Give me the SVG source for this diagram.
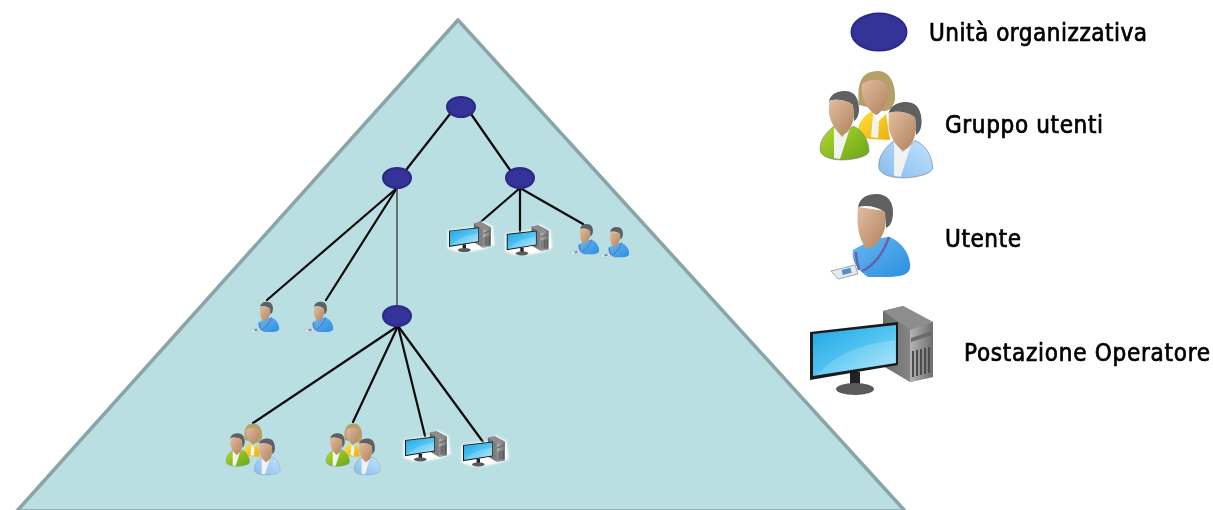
<svg xmlns="http://www.w3.org/2000/svg" width="1213" height="510" viewBox="0 0 1213 510">
<style>
.ou{fill:#333399;stroke:#2b2b85;stroke-width:2}
.lg{font-family:"DejaVu Sans","Liberation Sans",sans-serif;font-stretch:condensed;font-size:24px;fill:#000;stroke:#000;stroke-width:.7;filter:url(#soft)}
#connectors line{stroke:#0a0a0a;stroke-width:2.2;stroke-linecap:round}
#connectors line.thin{stroke:#333;stroke-width:1.3}
.hair{fill:#5f6062}
.face{fill:url(#skin)}
.shirt{fill:#f1f3f1}
</style>
<defs>
<filter id="soft" x="-5%" y="-20%" width="110%" height="140%"><feGaussianBlur stdDeviation=".45"/></filter>
<filter id="halo-blur" x="-10%" y="-10%" width="120%" height="120%"><feGaussianBlur stdDeviation="2.5"/></filter>
<linearGradient id="skin" x1="0" y1="0" x2="1" y2="1"><stop offset="0" stop-color="#e2bd9e"/><stop offset="1" stop-color="#b08260"/></linearGradient>
<linearGradient id="green" x1="0" y1="0" x2="1" y2="1"><stop offset="0" stop-color="#b4dc2c"/><stop offset="1" stop-color="#6aa418"/></linearGradient>
<linearGradient id="yellow" x1="0" y1="0" x2="1" y2="1"><stop offset="0" stop-color="#ffe03a"/><stop offset="1" stop-color="#eab010"/></linearGradient>
<linearGradient id="lblue" x1="1" y1="0" x2="0" y2="1"><stop offset="0" stop-color="#c4e4ff"/><stop offset="1" stop-color="#86bcec"/></linearGradient>
<linearGradient id="blue" x1="0" y1="0" x2="1" y2="1"><stop offset="0" stop-color="#69b7f0"/><stop offset="1" stop-color="#2b8fe0"/></linearGradient>
<linearGradient id="screen" x1="0" y1="0" x2="1" y2="1"><stop offset="0" stop-color="#1fa6e4"/><stop offset=".55" stop-color="#55c6f2"/><stop offset="1" stop-color="#a8e4fa"/></linearGradient>
<linearGradient id="tower" x1="0" y1="0" x2="1" y2="0"><stop offset="0" stop-color="#b4b4b4"/><stop offset="1" stop-color="#6f6f6f"/></linearGradient>
<linearGradient id="side" x1="0" y1="0" x2="1" y2="0"><stop offset="0" stop-color="#6c6c6c"/><stop offset="1" stop-color="#9a9a9a"/></linearGradient>
<g id="head">
<path class="hair" d="M-14,10C-12,2-4,0 2,0C12,0 16,8 16,18C16,24 14,28 11,30L10,14C2,8-8,8-14,10Z"/>
<path class="face" d="M-14,10C-8,8 2,8 10,14L11,24C10,34 6,42-1,44C-8,40-13,30-14,22Z"/>
</g>
<path id="bust" d="M-23,58C-23,46-13,38-6,33L1,44L10,35C20,39 26,50 26,60C26,66 8,69 0,69C-12,69-23,66-23,58Z" stroke="#77818a" stroke-width=".6"/>
<path id="shirtw" class="shirt" d="M-9,36L-1,46L7,37L-3,68L-9,67Z"/>
<g id="user">
<path d="M853,250C864,244 874,238 890,237C903,243 911,256 910,268C909,275 900,277 885,277L868,277C858,270 851,262 853,250Z" fill="url(#blue)"/>
<path d="M886,211L885,228C882,238 877,246 868,249C860,244 856,228 858,207Z" fill="url(#skin)"/>
<path class="hair" d="M858,207C860,197 868,194 876,194C888,194 893,202 893,212C893,220 891,226 886,228L885,212C876,206 866,205 858,207Z"/>
<path d="M889,237C884,252 874,266 862,271M856,252C856,260 858,266 859,270" fill="none" stroke="#6b5fa8" stroke-width="2.4"/>
<path d="M831,271L855,265L858,274L838,279Z" fill="#e4eaee" stroke="#8a9a9a" stroke-width=".8"/>
<rect x="842" y="269" width="9" height="5" fill="#4f90d0" transform="rotate(-14 846 271)"/>
</g>
<g id="group">
<path d="M859,105C857,85 860,71 878,71C892,71 896,88 895,100C892,112 884,112 880,110Z" fill="#b4a068"/>
<path d="M858,128C860,120 868,112 872,112L878,122L886,114L890,140L870,139C862,138 858,136 858,128Z" fill="url(#yellow)"/>
<path d="M873,114L879,122L878,138L871,137Z" fill="#f1f3f1"/>
<path d="M862,84C870,78 882,78 888,86L888,96C886,106 880,114 876,115C870,112 860,100 862,84Z" fill="url(#skin)"/>
<g transform="translate(843,91)"><use href="#bust" fill="url(#green)"/><use href="#shirtw"/><use href="#head"/></g>
<g transform="translate(904,102) scale(1.1)"><use href="#bust" fill="url(#lblue)"/><use href="#shirtw"/><use href="#head"/></g>
</g>
<g id="pc">
<path d="M883,311L903,306L933,322L933,377L910,382L883,366Z" fill="url(#side)"/>
<path d="M883,311L903,306L933,322L910,330Z" fill="#8d8d8d"/>
<path d="M910,330L933,322L933,377L910,382Z" fill="url(#tower)"/>
<path d="M911,338L932,331L932,335L911,342Z" fill="#6a6a6a"/>
<path d="M913,351V377M917,350V376M921,349V375M925,348V374M929,347V373" stroke="#4c4c4c" stroke-width="2"/>
<path d="M850,372H860V385H850Z" fill="#222"/>
<ellipse cx="855" cy="389" rx="19" ry="6" fill="#5a5a5a"/>
<path d="M810,332L898,322V365L810,380Z" fill="#1a1a1a"/>
<path d="M813,334L896,325V363L813,376Z" fill="url(#screen)"/>
<path d="M820,372C840,352 860,345 895,340V363L815,375Z" fill="#fff" opacity=".18"/>
</g>
<path id="halo" d="M806,332L898,318L903,303L938,320L944,374L912,386L876,393L832,393L806,384Z" fill="#fff"/>
</defs>
<g id="pyramid"><path d="M458,20L905,511L17,511Z" fill="#badfe2" stroke="#8aa5a8" stroke-width="3.6" stroke-linejoin="round"/></g>
<g id="connectors">
<line x1="450" y1="114" x2="406" y2="170"/>
<line x1="471" y1="114" x2="510" y2="170"/>
<line x1="397" y1="188" x2="267" y2="300"/>
<line x1="397" y1="188" x2="326" y2="300"/>
<line class="thin" x1="397" y1="188" x2="397" y2="306"/>
<line x1="520" y1="188" x2="476" y2="226"/>
<line x1="520" y1="188" x2="520" y2="236"/>
<line x1="520" y1="188" x2="583" y2="224"/>
<line x1="398" y1="326" x2="253" y2="423"/>
<line x1="398" y1="326" x2="353" y2="422"/>
<line x1="398" y1="326" x2="427" y2="444"/>
<line x1="398" y1="326" x2="486" y2="446"/>
</g>
<g id="ou-root"><ellipse class="ou" cx="461" cy="107" rx="14" ry="10"/></g>
<g id="ou-left"><ellipse class="ou" cx="397" cy="178" rx="14" ry="10"/></g>
<g id="ou-right"><ellipse class="ou" cx="520" cy="178" rx="14" ry="10"/></g>
<g id="ou-child"><ellipse class="ou" cx="397" cy="316" rx="14" ry="10"/></g>
<g id="pc-1" transform="translate(173.6,117.8) scale(.34)"><use href="#halo" filter="url(#halo-blur)"/><use href="#pc"/></g>
<g id="pc-2" transform="translate(231.3,121.1) scale(.34)"><use href="#halo" filter="url(#halo-blur)"/><use href="#pc"/></g>
<g id="pc-3" transform="translate(129.6,327.1) scale(.34)"><use href="#halo" filter="url(#halo-blur)"/><use href="#pc"/></g>
<g id="pc-4" transform="translate(187.6,332.1) scale(.34)"><use href="#halo" filter="url(#halo-blur)"/><use href="#pc"/></g>
<g id="user-1" transform="translate(267,153.2) scale(.365)"><use href="#user"/></g>
<g id="user-2" transform="translate(297,156.2) scale(.365)"><use href="#user"/></g>
<g id="user-3" transform="translate(-53,231) scale(.365)"><use href="#user"/></g>
<g id="user-4" transform="translate(1,231) scale(.365)"><use href="#user"/></g>
<g id="group-1" transform="translate(-169.3,389.3) scale(.482)"><use href="#group"/></g>
<g id="group-2" transform="translate(-69.3,389.3) scale(.482)"><use href="#group"/></g>
<g id="legend-ou"><ellipse cx="879" cy="32" rx="27.5" ry="18.5" class="ou"/><text class="lg" x="929" y="41" textLength="218">Unità organizzativa</text></g>
<g id="legend-group"><use href="#group"/><text class="lg" x="945" y="133" textLength="158">Gruppo utenti</text></g>
<g id="legend-user"><use href="#user"/><text class="lg" x="945" y="247" textLength="76">Utente</text></g>
<g id="legend-pc"><use href="#pc"/><text class="lg" x="964" y="361" textLength="246">Postazione Operatore</text></g>
</svg>
